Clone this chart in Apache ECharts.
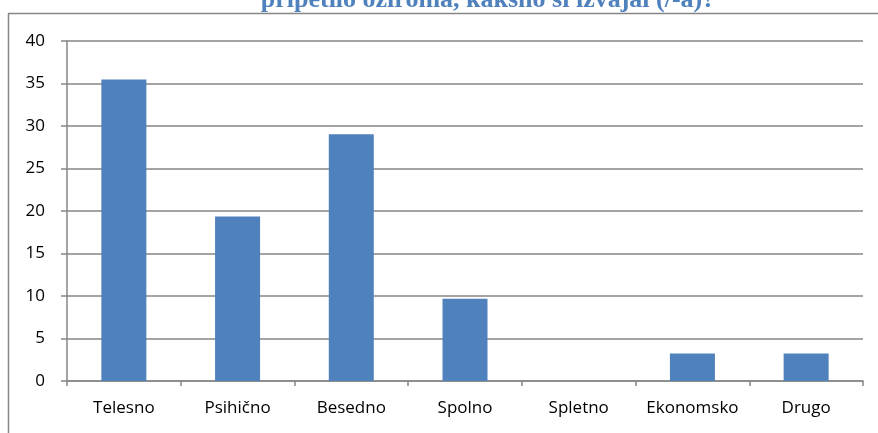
<!DOCTYPE html>
<html>
<head>
<meta charset="utf-8">
<script src="https://cdn.jsdelivr.net/npm/echarts@6/dist/echarts.min.js"></script>
<style>
  html, body { margin: 0; padding: 0; background: #fff; }
  #chart { width: 878px; height: 433px; }
</style>
</head>
<body>
<div id="chart"></div>
<script>
// kategorije in deleži (%)
const categories = ['Telesno', 'Psihično', 'Besedno', 'Spolno', 'Spletno', 'Ekonomsko', 'Drugo']
const values = [35.48, 19.35, 29.03, 9.68, 0, 3.23, 3.23]
const titleText = 'pripetilo oziroma, kakšno si izvajal (/-a)?'

const chart = echarts.init(document.getElementById('chart'))
const axisGray = '#868686'
const labelFont = '"Open Sans", "Noto Sans", sans-serif'

const option = {
  animation: false,
  grid: { left: 67, right: 15, top: 41, bottom: 52 },
  graphic: [
    // okvir grafa
    { type: 'line', shape: { x1: 8, y1: 13.5, x2: 878, y2: 13.5 }, style: { stroke: axisGray, lineWidth: 1.5 } },
    { type: 'line', shape: { x1: 8.5, y1: 13, x2: 8.5, y2: 433 }, style: { stroke: axisGray, lineWidth: 1.5 } },
    {
      type: 'text', x: 488, y: -13,
      style: {
        text: titleText, fill: '#4f81bd',
        font: 'bold 26px "Liberation Serif", "DejaVu Serif", serif',
        align: 'center', verticalAlign: 'top'
      }
    }
  ],
  xAxis: {
    type: 'category',
    data: categories,
    axisLine: { lineStyle: { color: axisGray, width: 1.5 } },
    axisTick: { show: true, length: 5, interval: 0, alignWithLabel: false, lineStyle: { color: axisGray, width: 1.5 } },
    axisLabel: { color: '#000', fontSize: 17, margin: 19, interval: 0, hideOverlap: false, fontFamily: labelFont }
  },
  yAxis: {
    type: 'value',
    min: 0, max: 40, interval: 5,
    axisLine: { show: true, lineStyle: { color: axisGray, width: 1.5 } },
    axisTick: { show: true, length: 6, lineStyle: { color: axisGray, width: 1.5 } },
    axisLabel: { color: '#000', fontSize: 17, margin: 22, fontFamily: labelFont },
    splitLine: { lineStyle: { color: axisGray, width: 1.5 } }
  },
  series: [{
    type: 'bar',
    data: values,
    barWidth: 45,
    itemStyle: { color: '#4f81bd' }
  }]
}
chart.setOption(option)
</script>
</body>
</html>
